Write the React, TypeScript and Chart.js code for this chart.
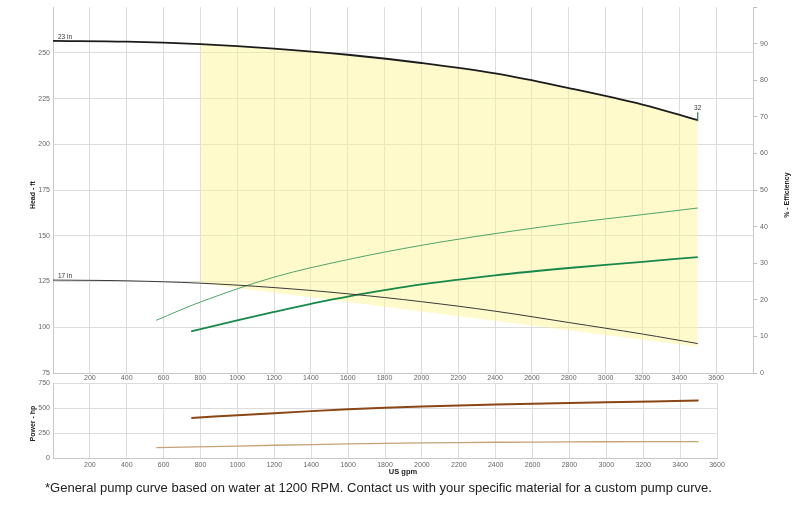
import React, { useEffect, useRef } from "react";
import { Chart, registerables } from "chart.js";

Chart.register(...registerables);

// ---- Data ----
const flow23 = [0, 400, 800, 1200, 1600, 2000, 2400, 2800, 3200, 3500];
const head23 = [256.6, 256.2, 254.8, 252.4, 249.0, 244.5, 238.8, 230.8, 221.8, 213.2];

const flow17 = [0, 400, 800, 1200, 1600, 2000, 2400, 2800, 3200, 3500];
const head17 = [125.8, 125.4, 124.1, 121.7, 118.3, 114.0, 108.8, 102.6, 96.3, 91.1];

const fillTopFlow = [800, 1200, 1600, 2000, 2400, 2800, 3200, 3500];
const fillTopHead = [254.8, 252.4, 249.0, 244.5, 238.8, 230.8, 221.8, 213.2];
const fillBottomFlow = [800, 3500];
const fillBottomHead = [124.1, 89.4];

const effFlowA = [560, 800, 1200, 1600, 2000, 2400, 2800, 3200, 3500];
const effA = [14.4, 19.4, 26.2, 31.0, 34.9, 38.1, 40.9, 43.3, 45.1];

const effFlowB = [750, 1000, 1200, 1400, 1600, 2000, 2400, 2800, 3200, 3500];
const effB = [11.4, 14.4, 16.7, 18.9, 20.9, 24.2, 26.7, 28.7, 30.4, 31.7];

const powFlowA = [750, 1000, 1400, 1800, 2200, 2600, 3000, 3500];
const powA = [402, 428, 470, 503, 527, 545, 558, 577];

const powFlowB = [560, 1000, 1400, 1800, 2200, 2600, 3000, 3500];
const powB = [104, 120, 135, 147, 155, 160, 163, 165];

const curveLabels = ["23 in", "17 in"];
const endLabel = "32";
const headTitle = "Head - ft";
const effTitle = "% - Efficiency";
const powerTitle = "Power - hp";
const flowTitle = "US gpm";
const footnote =
  "*General pump curve based on water at 1200 RPM. Contact us with your specific material for a custom pump curve.";

const FONT = "'Liberation Sans', Arial, sans-serif";
const GRID = "#dcdcdc";
const TICK = "#666";

const pts = (xs: number[], ys: number[]) => xs.map((x, i) => ({ x, y: ys[i] }));

const topTextPlugin = {
  id: "topText",
  afterDatasetsDraw(chart: any) {
    const { ctx, scales } = chart;
    const x = scales.x;
    const y = scales.y;
    ctx.save();
    ctx.font = `6.5px ${FONT}`;
    ctx.fillStyle = "#333";
    ctx.textAlign = "left";
    ctx.textBaseline = "alphabetic";
    ctx.fillText(curveLabels[0], x.left + 5, y.getPixelForValue(head23[0]) - 2);
    ctx.fillText(curveLabels[1], x.left + 5, y.getPixelForValue(head17[0]) - 2);
    const n = flow23.length - 1;
    const ex = x.getPixelForValue(flow23[n]);
    const ey = y.getPixelForValue(head23[n]);
    ctx.strokeStyle = "#1a8a4a";
    ctx.lineWidth = 1.2;
    ctx.beginPath();
    ctx.moveTo(ex, ey + 1);
    ctx.lineTo(ex, ey - 8);
    ctx.stroke();
    ctx.textAlign = "center";
    ctx.fillText(endLabel, ex, ey - 10);

    ctx.font = `bold 7px ${FONT}`;
    ctx.fillStyle = "#222";
    ctx.textBaseline = "middle";
    const cy = (y.top + y.bottom) / 2 + 5;
    ctx.save();
    ctx.translate(33, cy);
    ctx.rotate(-Math.PI / 2);
    ctx.fillText(headTitle, 0, 0);
    ctx.restore();
    ctx.save();
    ctx.translate(787, cy);
    ctx.rotate(-Math.PI / 2);
    ctx.fillText(effTitle, 0, 0);
    ctx.restore();
    ctx.restore();
  },
};

const bottomTextPlugin = {
  id: "bottomText",
  afterDatasetsDraw(chart: any) {
    const { ctx, scales } = chart;
    const y = scales.y;
    ctx.save();
    ctx.font = `bold 7px ${FONT}`;
    ctx.fillStyle = "#222";
    ctx.textAlign = "center";
    ctx.textBaseline = "middle";
    ctx.save();
    ctx.translate(33, (y.top + y.bottom) / 2 + 3);
    ctx.rotate(-Math.PI / 2);
    ctx.fillText(powerTitle, 0, 0);
    ctx.restore();
    ctx.font = `bold 7.5px ${FONT}`;
    ctx.fillText(flowTitle, 403, y.bottom + 14);
    ctx.restore();
  },
};

const tickFont = { family: FONT, size: 7 };

export default function App() {
  const topRef = useRef<HTMLCanvasElement | null>(null);
  const botRef = useRef<HTMLCanvasElement | null>(null);

  useEffect(() => {
    const line = (
      data: { x: number; y: number }[],
      color: string,
      width: number,
      axis: string,
      order = 1
    ) => ({
      data,
      borderColor: color,
      borderWidth: width,
      pointRadius: 0,
      tension: 0.35,
      fill: false,
      yAxisID: axis,
      order,
    });

    const top = new Chart(topRef.current as HTMLCanvasElement, {
      type: "line",
      data: {
        datasets: [
          line(pts(flow23, head23), "#1c1c1c", 1.8, "y", 1),
          line(pts(flow17, head17), "#3a3a3a", 1, "y", 2),
          line(pts(effFlowA, effA), "#4fa468", 1, "y2", 3),
          line(pts(effFlowB, effB), "#17884a", 1.8, "y2", 2),
          {
            data: pts(fillTopFlow, fillTopHead),
            borderWidth: 0,
            borderColor: "rgba(0,0,0,0)",
            pointRadius: 0,
            tension: 0.35,
            backgroundColor: "rgba(252, 244, 140, 0.45)",
            fill: "+1",
            yAxisID: "y",
            order: 10,
          },
          {
            data: pts(fillBottomFlow, fillBottomHead),
            borderWidth: 0,
            borderColor: "rgba(0,0,0,0)",
            pointRadius: 0,
            fill: false,
            yAxisID: "y",
            order: 11,
          },
        ] as any,
      },
      options: {
        responsive: false,
        animation: false,
        devicePixelRatio: 1,
        layout: { padding: { top: 4, left: 0, right: 0, bottom: 0 } },
        plugins: { legend: { display: false }, tooltip: { enabled: false } },
        scales: {
          x: {
            type: "linear",
            min: 0,
            max: 3800,
            ticks: {
              stepSize: 200,
              font: tickFont,
              color: TICK,
              padding: 1,
              maxRotation: 0,
              autoSkip: false,
              callback: (v: any) => (v === 0 || v === 3800 ? "" : String(v)),
            },
            grid: { color: GRID, drawTicks: false },
            border: { color: "#c8c8c8" },
            afterFit: (s: any) => {
              s.height = 11;
            },
          },
          y: {
            position: "left",
            min: 75,
            max: 275,
            ticks: {
              stepSize: 25,
              font: tickFont,
              color: TICK,
              padding: 3,
              callback: (v: any) => (v === 275 ? "" : String(v)),
            },
            grid: {
              drawTicks: false,
              color: (c: any) => (c.tick && c.tick.value === 275 ? "rgba(0,0,0,0)" : GRID),
            },
            border: { color: "#c8c8c8" },
            afterFit: (s: any) => {
              s.width = 53;
            },
          },
          y2: {
            position: "right",
            min: 0,
            max: 100,
            ticks: {
              stepSize: 10,
              font: tickFont,
              color: TICK,
              padding: 3,
              callback: (v: any) => (v === 100 ? "" : String(v)),
            },
            grid: { drawOnChartArea: false, drawTicks: true, tickLength: 4, color: "#bbb" },
            border: { color: "#c8c8c8" },
            afterFit: (s: any) => {
              s.width = 47;
            },
          },
        },
      } as any,
      plugins: [topTextPlugin],
    });

    const bot = new Chart(botRef.current as HTMLCanvasElement, {
      type: "line",
      data: {
        datasets: [
          line(pts(powFlowA, powA), "#8a4614", 2, "y", 1),
          line(pts(powFlowB, powB), "#c6a277", 1.3, "y", 2),
        ] as any,
      },
      options: {
        responsive: false,
        animation: false,
        devicePixelRatio: 1,
        layout: { padding: { top: 5, left: 0, right: 83, bottom: 0 } },
        plugins: { legend: { display: false }, tooltip: { enabled: false } },
        scales: {
          x: {
            type: "linear",
            min: 0,
            max: 3600,
            ticks: {
              stepSize: 200,
              font: tickFont,
              color: TICK,
              padding: 3,
              maxRotation: 0,
              autoSkip: false,
              callback: (v: any) => (v === 0 ? "" : String(v)),
            },
            grid: { color: GRID, drawTicks: false },
            border: { color: "#c8c8c8" },
            afterFit: (s: any) => {
              s.height = 24;
            },
          },
          y: {
            position: "left",
            min: 0,
            max: 750,
            ticks: {
              stepSize: 250,
              font: tickFont,
              color: TICK,
              padding: 3,
            },
            grid: { drawTicks: false, color: GRID },
            border: { color: "#c8c8c8" },
            afterFit: (s: any) => {
              s.width = 53;
            },
          },
        },
      } as any,
      plugins: [bottomTextPlugin],
    });

    return () => {
      top.destroy();
      bot.destroy();
    };
  }, []);

  return (
    <div
      style={{
        position: "absolute",
        left: 0,
        top: 0,
        width: 800,
        height: 507,
        background: "#fff",
        overflow: "hidden",
      }}
    >
      <canvas
        ref={topRef}
        width={800}
        height={384}
        style={{ position: "absolute", left: 0, top: 0, width: 800, height: 384, display: "block" }}
      />
      <canvas
        ref={botRef}
        width={800}
        height={106}
        style={{ position: "absolute", left: 0, top: 376, width: 800, height: 106, display: "block" }}
      />
      <div
        style={{
          position: "absolute",
          left: 45,
          top: 480,
          fontFamily: FONT,
          fontSize: 13,
          lineHeight: "15px",
          color: "#222",
          whiteSpace: "nowrap",
        }}
      >
        {footnote}
      </div>
    </div>
  );
}
